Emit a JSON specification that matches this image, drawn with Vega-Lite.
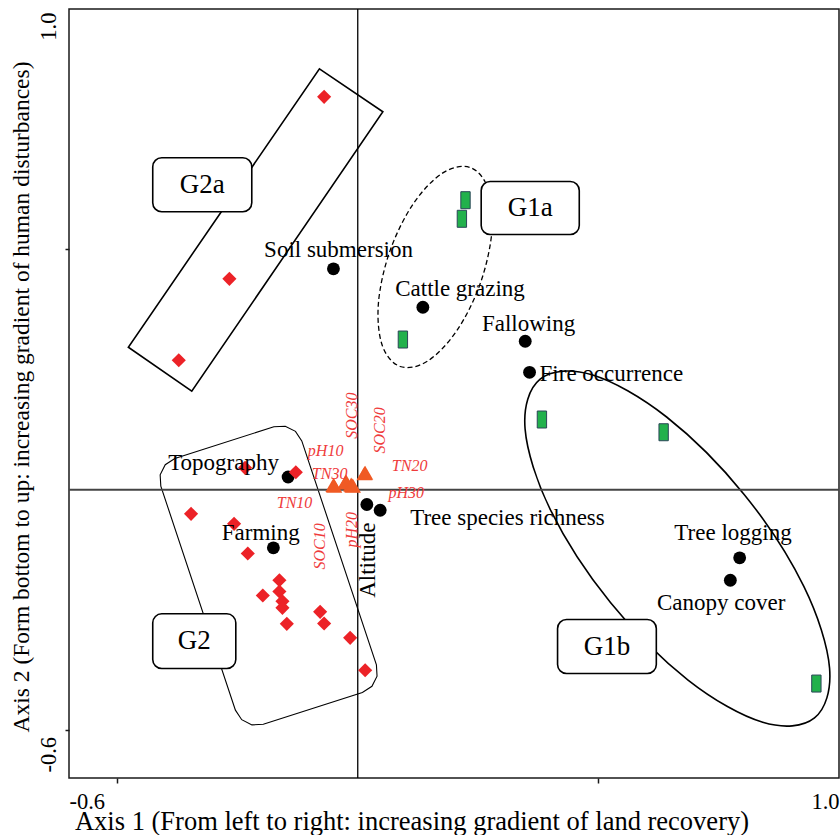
{
  "$schema": "https://vega.github.io/schema/vega-lite/v6.json",
  "width": 770,
  "height": 769,
  "autosize": {"type": "none"},
  "padding": {"left": 69, "top": 9, "right": 1, "bottom": 57},
  "background": "white",
  "config": {
    "view": {"stroke": "#1a1a1a", "strokeWidth": 1.5},
    "font": "Liberation Serif",
    "axis": {"labelFont": "Liberation Serif", "titleFont": "Liberation Serif", "labelColor": "#000", "titleColor": "#000", "titleFontWeight": "normal", "grid": false, "domain": false, "tickColor": "#1a1a1a", "tickWidth": 1.5, "labelOverlap": false}
  },
  "datasets": {
    "g2a_outline": [
      {"i": 0, "x": -0.0796, "y": 0.8756},
      {"i": 1, "x": 0.0522, "y": 0.7861},
      {"i": 2, "x": -0.3449, "y": 0.2047},
      {"i": 3, "x": -0.4767, "y": 0.2963}
    ],
    "g2_outline": [
      {"i": 1, "x": -0.4092, "y": 0.0072},
      {"i": 2, "x": -0.4106, "y": 0.0308},
      {"i": 3, "x": -0.4000, "y": 0.0518},
      {"i": 4, "x": -0.3801, "y": 0.0646},
      {"i": 5, "x": -0.1743, "y": 0.1308},
      {"i": 6, "x": -0.1506, "y": 0.1320},
      {"i": 7, "x": -0.1294, "y": 0.1212},
      {"i": 8, "x": -0.1163, "y": 0.1014},
      {"i": 9, "x": 0.0388, "y": -0.3646},
      {"i": 10, "x": 0.0401, "y": -0.3882},
      {"i": 11, "x": 0.0295, "y": -0.4092},
      {"i": 12, "x": 0.0096, "y": -0.4221},
      {"i": 13, "x": -0.1962, "y": -0.4883},
      {"i": 14, "x": -0.2199, "y": -0.4895},
      {"i": 15, "x": -0.2411, "y": -0.4787},
      {"i": 16, "x": -0.2542, "y": -0.4588}
    ],
    "g1a_outline": [
      {"i": 0, "x": 0.2337, "y": 0.6702},
      {"i": 1, "x": 0.2710, "y": 0.6258},
      {"i": 2, "x": 0.2788, "y": 0.5380},
      {"i": 3, "x": 0.2550, "y": 0.4300},
      {"i": 4, "x": 0.2060, "y": 0.3310},
      {"i": 5, "x": 0.1449, "y": 0.2673},
      {"i": 6, "x": 0.0881, "y": 0.2562},
      {"i": 7, "x": 0.0508, "y": 0.3005},
      {"i": 8, "x": 0.0430, "y": 0.3884},
      {"i": 9, "x": 0.0668, "y": 0.4963},
      {"i": 10, "x": 0.1158, "y": 0.5954},
      {"i": 11, "x": 0.1769, "y": 0.6590}
    ],
    "g1b_outline": [
      {"i": 0, "x": 0.9491, "y": -0.4750},
      {"i": 1, "x": 0.8415, "y": -0.4841},
      {"i": 2, "x": 0.6863, "y": -0.3963},
      {"i": 3, "x": 0.5251, "y": -0.2351},
      {"i": 4, "x": 0.4012, "y": -0.0438},
      {"i": 5, "x": 0.3477, "y": 0.1264},
      {"i": 6, "x": 0.3790, "y": 0.2299},
      {"i": 7, "x": 0.4866, "y": 0.2390},
      {"i": 8, "x": 0.6418, "y": 0.1511},
      {"i": 9, "x": 0.8029, "y": -0.0100},
      {"i": 10, "x": 0.9269, "y": -0.2013},
      {"i": 11, "x": 0.9804, "y": -0.3715}
    ],
    "boxes": [
      {"label": "G2a", "x": -0.4260, "x2": -0.2202, "y": 0.6904, "y2": 0.5780},
      {"label": "G1a", "x": 0.2565, "x2": 0.4603, "y": 0.6411, "y2": 0.5308},
      {"label": "G2", "x": -0.4260, "x2": -0.2534, "y": -0.2584, "y2": -0.3722},
      {"label": "G1b", "x": 0.4152, "x2": 0.6204, "y": -0.2703, "y2": -0.3826}
    ],
    "box_labels": [
      {"label": "G2a", "x": -0.3231, "y": 0.6342},
      {"label": "G1a", "x": 0.3584, "y": 0.5859},
      {"label": "G2", "x": -0.3397, "y": -0.3153},
      {"label": "G1b", "x": 0.5178, "y": -0.3265}
    ],
    "env": [
      {"name": "Soil submersion", "x": -0.0505, "y": 0.4594},
      {"name": "Cattle grazing", "x": 0.1353, "y": 0.3795},
      {"name": "Fallowing", "x": 0.3480, "y": 0.3088},
      {"name": "Fire occurrence", "x": 0.3570, "y": 0.2441},
      {"name": "Topography", "x": -0.1447, "y": 0.0262},
      {"name": "Farming", "x": -0.1753, "y": -0.1211},
      {"name": "Altitude", "x": 0.0189, "y": -0.0310},
      {"name": "Tree species richness", "x": 0.0466, "y": -0.0429},
      {"name": "Tree logging", "x": 0.7936, "y": -0.1419},
      {"name": "Canopy cover", "x": 0.7742, "y": -0.1885}
    ],
    "g1_sites": [
      {"x": 0.2239, "y": 0.6022},
      {"x": 0.2164, "y": 0.5635},
      {"x": 0.0938, "y": 0.3123},
      {"x": 0.3827, "y": 0.1459},
      {"x": 0.6356, "y": 0.1194},
      {"x": 0.9530, "y": -0.4035}
    ],
    "g2_sites": [
      {"x": -0.0699, "y": 0.8173},
      {"x": -0.2667, "y": 0.4386},
      {"x": -0.3719, "y": 0.2692},
      {"x": -0.2341, "y": 0.0454},
      {"x": -0.1287, "y": 0.0362},
      {"x": -0.3464, "y": -0.0504},
      {"x": -0.2570, "y": -0.0712},
      {"x": -0.2285, "y": -0.1330},
      {"x": -0.1628, "y": -0.1885},
      {"x": -0.1973, "y": -0.2203},
      {"x": -0.1628, "y": -0.2120},
      {"x": -0.1565, "y": -0.2322},
      {"x": -0.1565, "y": -0.2459},
      {"x": -0.1474, "y": -0.2792},
      {"x": -0.0782, "y": -0.2543},
      {"x": -0.0699, "y": -0.2786},
      {"x": -0.0158, "y": -0.3084},
      {"x": 0.0154, "y": -0.3758}
    ],
    "soil": [
      {"name": "TN10", "x": -0.0505, "y": 0.0096},
      {"name": "SOC10", "x": -0.0490, "y": 0.0080},
      {"name": "TN30", "x": -0.0241, "y": 0.0169},
      {"name": "pH10", "x": -0.0260, "y": 0.0150},
      {"name": "SOC30", "x": -0.0137, "y": 0.0106},
      {"name": "pH20", "x": -0.0120, "y": 0.0090},
      {"name": "pH30", "x": -0.0100, "y": 0.0080},
      {"name": "SOC20", "x": 0.0154, "y": 0.0350},
      {"name": "TN20", "x": 0.0140, "y": 0.0340}
    ],
    "env_labels": [
      {"text": "Soil submersion", "x": -0.1946, "y": 0.4844},
      {"text": "Cattle grazing", "x": 0.0778, "y": 0.4024},
      {"text": "Fallowing", "x": 0.2580, "y": 0.3296},
      {"text": "Fire occurrence", "x": 0.3778, "y": 0.2256},
      {"text": "Topography", "x": -0.3940, "y": 0.0404},
      {"text": "Farming", "x": -0.2825, "y": -0.1038},
      {"text": "Tree species richness", "x": 0.1089, "y": -0.0726},
      {"text": "Tree logging", "x": 0.6578, "y": -0.1038},
      {"text": "Canopy cover", "x": 0.6218, "y": -0.2509}
    ],
    "env_vlabels": [
      {"text": "Altitude", "x": 0.0362, "y": -0.2251}
    ],
    "soil_labels": [
      {"text": "pH10", "x": -0.1037, "y": 0.0710},
      {"text": "TN30", "x": -0.0954, "y": 0.0225},
      {"text": "TN10", "x": -0.1682, "y": -0.0379},
      {"text": "TN20", "x": 0.0709, "y": 0.0383},
      {"text": "pH30", "x": 0.0638, "y": -0.0171}
    ],
    "soil_vlabels": [
      {"text": "SOC30", "x": -0.0012, "y": 0.1057},
      {"text": "SOC20", "x": 0.0570, "y": 0.0751},
      {"text": "SOC10", "x": -0.0678, "y": -0.1663},
      {"text": "pH20", "x": -0.0023, "y": -0.1205}
    ],
    "zero": [
      {"x": 0, "y": 0}
    ]
  },
  "encoding": {
    "x": {
      "field": "x", "type": "quantitative",
      "scale": {"domain": [-0.6, 1.0], "nice": false, "zero": false},
      "axis": {
        "values": [-0.6, -0.5, 0.5, 1.0],
        "title": "Axis 1 (From left to right: increasing gradient of land recovery)",
        "titleFontSize": 26.5, "titleX": 342.5, "titleY": 51, "titleAlign": "center", "titleBaseline": "alphabetic",
        "labelFontSize": 22.5,
        "labelExpr": "datum.value < -0.55 ? '-0.6' : (datum.value > 0.95 ? '1.0' : '')",
        "labelAlign": {"condition": {"test": "datum.value > 0", "value": "right"}, "value": "left"},
        "labelBaseline": "alphabetic", "labelPadding": 25, "tickSize": 5,
        "tickOpacity": {"condition": {"test": "abs(datum.value) > 0.55", "value": 0}, "value": 1}
      }
    },
    "y": {
      "field": "y", "type": "quantitative",
      "scale": {"domain": [-0.6, 1.0], "nice": false, "zero": false},
      "axis": {
        "values": [-0.6, -0.5, 0.5, 1.0],
        "title": "Axis 2 (Form bottom to up: increasing gradient of human disturbances)",
        "titleFontSize": 23.5, "titleAngle": -90, "titleX": -41, "titleY": 387.5, "titleAlign": "center", "titleBaseline": "alphabetic",
        "labelFontSize": 22.5, "labelAngle": -90,
        "labelExpr": "datum.value < -0.55 ? '-0.6' : (datum.value > 0.95 ? '1.0' : '')",
        "labelAlign": {"condition": {"test": "datum.value > 0", "value": "right"}, "value": "left"},
        "labelOffset": {"condition": {"test": "datum.value > 0", "value": 3}, "value": -6},
        "labelBaseline": "alphabetic", "labelPadding": 10, "tickSize": 4,
        "tickOpacity": {"condition": {"test": "abs(datum.value) > 0.55", "value": 0}, "value": 1}
      }
    }
  },
  "layer": [
    {
      "data": {"name": "g2a_outline"},
      "mark": {"type": "line", "interpolate": "linear-closed", "stroke": "#000", "strokeWidth": 1.6},
      "encoding": {"order": {"field": "i", "type": "quantitative"}}
    },
    {
      "data": {"name": "g2_outline"},
      "mark": {"type": "line", "interpolate": "linear-closed", "stroke": "#000", "strokeWidth": 1.1},
      "encoding": {"order": {"field": "i", "type": "quantitative"}}
    },
    {
      "data": {"name": "g1a_outline"},
      "mark": {"type": "line", "interpolate": "cardinal-closed", "stroke": "#000", "strokeWidth": 1.3, "strokeDash": [5, 3]},
      "encoding": {"order": {"field": "i", "type": "quantitative"}}
    },
    {
      "data": {"name": "g1b_outline"},
      "mark": {"type": "line", "interpolate": "cardinal-closed", "stroke": "#000", "strokeWidth": 1.6},
      "encoding": {"order": {"field": "i", "type": "quantitative"}}
    },
    {
      "data": {"name": "zero"},
      "mark": {"type": "rule", "color": "#000", "strokeWidth": 1.3},
      "encoding": {"y": {"value": 0}, "y2": {"value": 769}}
    },
    {
      "data": {"name": "zero"},
      "mark": {"type": "rule", "color": "#444", "strokeWidth": 2},
      "encoding": {"x": {"value": 0}, "x2": {"value": 770}}
    },
    {
      "data": {"name": "boxes"},
      "mark": {"type": "rect", "fill": "white", "stroke": "#000", "strokeWidth": 1.6, "cornerRadius": 9},
      "encoding": {"x2": {"field": "x2"}, "y2": {"field": "y2"}}
    },
    {
      "data": {"name": "box_labels"},
      "mark": {"type": "text", "align": "center", "baseline": "middle", "font": "Liberation Serif", "fontSize": 27, "color": "#000"},
      "encoding": {"text": {"field": "label"}}
    },
    {
      "data": {"name": "env"},
      "mark": {"type": "point", "shape": "circle", "filled": true, "size": 165, "color": "#000", "opacity": 1}
    },
    {
      "data": {"name": "g1_sites"},
      "mark": {"type": "point", "shape": "M-0.55,-1H0.55V1H-0.55Z", "filled": true, "size": 289, "fill": "#22b14c", "stroke": "#2a4657", "strokeWidth": 1, "opacity": 1}
    },
    {
      "data": {"name": "g2_sites"},
      "mark": {"type": "point", "shape": "diamond", "filled": true, "size": 200, "color": "#ec2227", "opacity": 1}
    },
    {
      "data": {"name": "soil"},
      "mark": {"type": "point", "shape": "triangle-up", "filled": true, "size": 260, "color": "#f05a24", "opacity": 1}
    },
    {
      "data": {"name": "env_labels"},
      "mark": {"type": "text", "align": "left", "baseline": "alphabetic", "font": "Liberation Serif", "fontSize": 23, "color": "#000"},
      "encoding": {"text": {"field": "text"}}
    },
    {
      "data": {"name": "env_vlabels"},
      "mark": {"type": "text", "align": "left", "baseline": "alphabetic", "angle": 270, "font": "Liberation Serif", "fontSize": 23, "color": "#000"},
      "encoding": {"text": {"field": "text"}}
    },
    {
      "data": {"name": "soil_labels"},
      "mark": {"type": "text", "align": "left", "baseline": "alphabetic", "font": "Liberation Serif", "fontStyle": "italic", "fontSize": 16, "color": "#ef3b3b"},
      "encoding": {"text": {"field": "text"}}
    },
    {
      "data": {"name": "soil_vlabels"},
      "mark": {"type": "text", "align": "left", "baseline": "alphabetic", "angle": 270, "font": "Liberation Serif", "fontStyle": "italic", "fontSize": 16, "color": "#ef3b3b"},
      "encoding": {"text": {"field": "text"}}
    }
  ]
}
